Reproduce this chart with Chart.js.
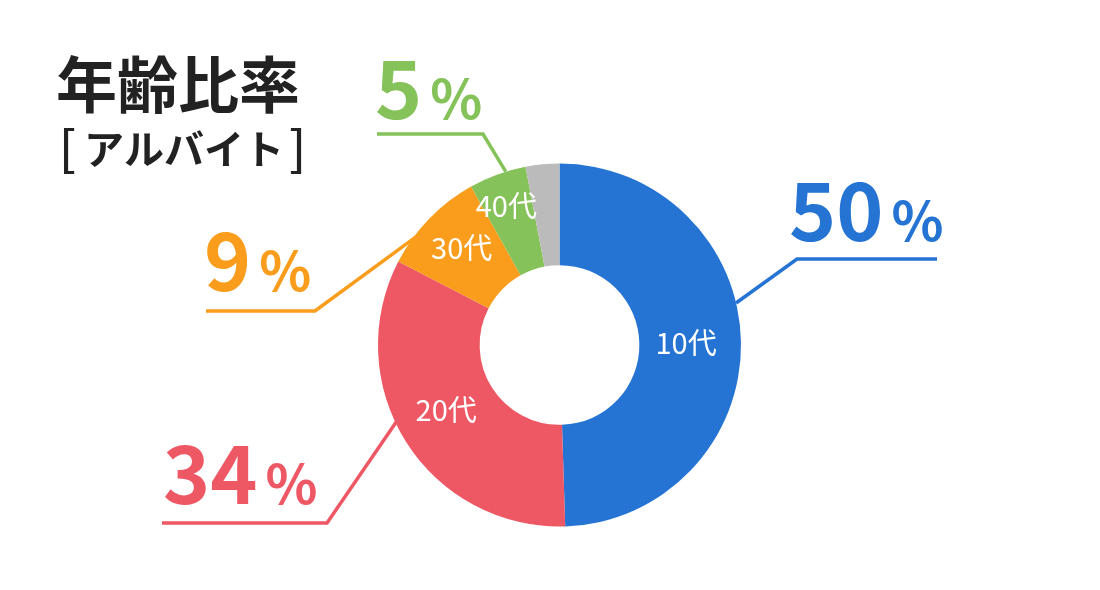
<!DOCTYPE html>
<html><head><meta charset="utf-8">
<script src="https://cdn.jsdelivr.net/npm/chart.js@4"></script>
<style>
html,body{margin:0;padding:0;background:#fff;}
#wrap{position:relative;width:1100px;height:590px;}
canvas{display:block;}
</style>
</head><body>
<div id="wrap"><canvas id="c" width="1100" height="590"></canvas></div>
<script>
// ---- data ----
const categories = ['10代', '20代', '30代', '40代', 'その他'];
const shares = [49.5, 33.1, 9.3, 5.1, 3.0];
const percentLabels = ['50', '34', '9', '5', null];
const colors = ['#2574D4', '#EE5864', '#FA9D1C', '#85C25A', '#BBBBBB'];
const titleText = '年齢比率';
const subtitleText = 'アルバイト';

// ---- annotation layout (positions only) ----
const leaders = [
  {frac:0.43, rf:1.0, elbow:[797,259], end:[937,259], num:[789,241]},
  {frac:0.56, rf:0.99, elbow:[327,523], end:[162,523], num:[163,504]},
  {frac:0.35, rf:0.98, elbow:[315,311], end:[206,311], num:[204,291]},
  {frac:0.65, rf:1.0, elbow:[483,134], end:[377,134], num:[375,119]},
  null
];
const inner = [
  {frac:0.5, rf:0.46},
  {frac:0.52, rf:0.5},
  {frac:0.52, rf:0.57},
  {frac:0.45, rf:0.68},
  null
];

const FONT = '"Noto Sans CJK JP", "Noto Sans", sans-serif';

const overlay = {
  id:'overlay',
  afterDatasetsDraw(chart){
    const ctx = chart.ctx;
    const meta = chart.getDatasetMeta(0);
    ctx.save();
    meta.data.forEach((arc, i) => {
      const L = leaders[i];
      if (!L) return;
      const p = arc.getProps(['x','y','startAngle','endAngle','outerRadius','innerRadius'], true);
      const a = p.startAngle + L.frac * (p.endAngle - p.startAngle);
      const r = p.outerRadius * L.rf;
      const sx = p.x + Math.cos(a) * r, sy = p.y + Math.sin(a) * r;
      ctx.strokeStyle = colors[i];
      ctx.lineWidth = 3.5;
      ctx.lineJoin = 'miter';
      ctx.beginPath();
      ctx.moveTo(sx, sy);
      ctx.lineTo(L.elbow[0], L.elbow[1]);
      ctx.lineTo(L.end[0], L.end[1]);
      ctx.stroke();
      ctx.fillStyle = colors[i];
      ctx.textBaseline = 'alphabetic';
      ctx.textAlign = 'left';
      ctx.font = 'bold 80px ' + FONT;
      const num = percentLabels[i];
      ctx.fillText(num, L.num[0], L.num[1]);
      const w = ctx.measureText(num).width;
      ctx.font = '600 54px ' + FONT;
      ctx.fillText('%', L.num[0] + w + 8, L.num[1]);
    });
    ctx.fillStyle = '#ffffff';
    ctx.font = '400 29px ' + FONT;
    ctx.textAlign = 'center';
    ctx.textBaseline = 'middle';
    meta.data.forEach((arc, i) => {
      const I = inner[i];
      if (!I) return;
      const p = arc.getProps(['x','y','startAngle','endAngle','outerRadius','innerRadius'], true);
      const a = p.startAngle + I.frac * (p.endAngle - p.startAngle);
      const rr = p.innerRadius + (p.outerRadius - p.innerRadius) * I.rf;
      ctx.fillText(categories[i], p.x + Math.cos(a) * rr, p.y + Math.sin(a) * rr);
    });
    // title
    ctx.fillStyle = '#222222';
    ctx.textAlign = 'left';
    ctx.textBaseline = 'alphabetic';
    ctx.font = 'bold 61px ' + FONT;
    ctx.fillText(titleText, 56, 108);
    ctx.font = 'bold 40px ' + FONT;
    ctx.fillText(subtitleText, 84, 164);
    const sw = ctx.measureText(subtitleText).width;
    ctx.font = '500 48px ' + FONT;
    ctx.fillText('[', 59, 166);
    ctx.fillText(']', 84 + sw + 5, 166);
    ctx.restore();
  }
};

new Chart(document.getElementById('c'), {
  type: 'doughnut',
  data: {
    labels: categories,
    datasets: [{
      data: shares,
      backgroundColor: colors,
      borderWidth: 0,
      hoverOffset: 0
    }]
  },
  options: {
    responsive: false,
    animation: false,
    cutout: '44%',
    layout: { padding: { left: 378, right: 359, top: 163.5, bottom: 63.5 } },
    plugins: { legend: { display: false }, tooltip: { enabled: false } },
    events: []
  },
  plugins: [overlay]
});
</script>
</body></html>
